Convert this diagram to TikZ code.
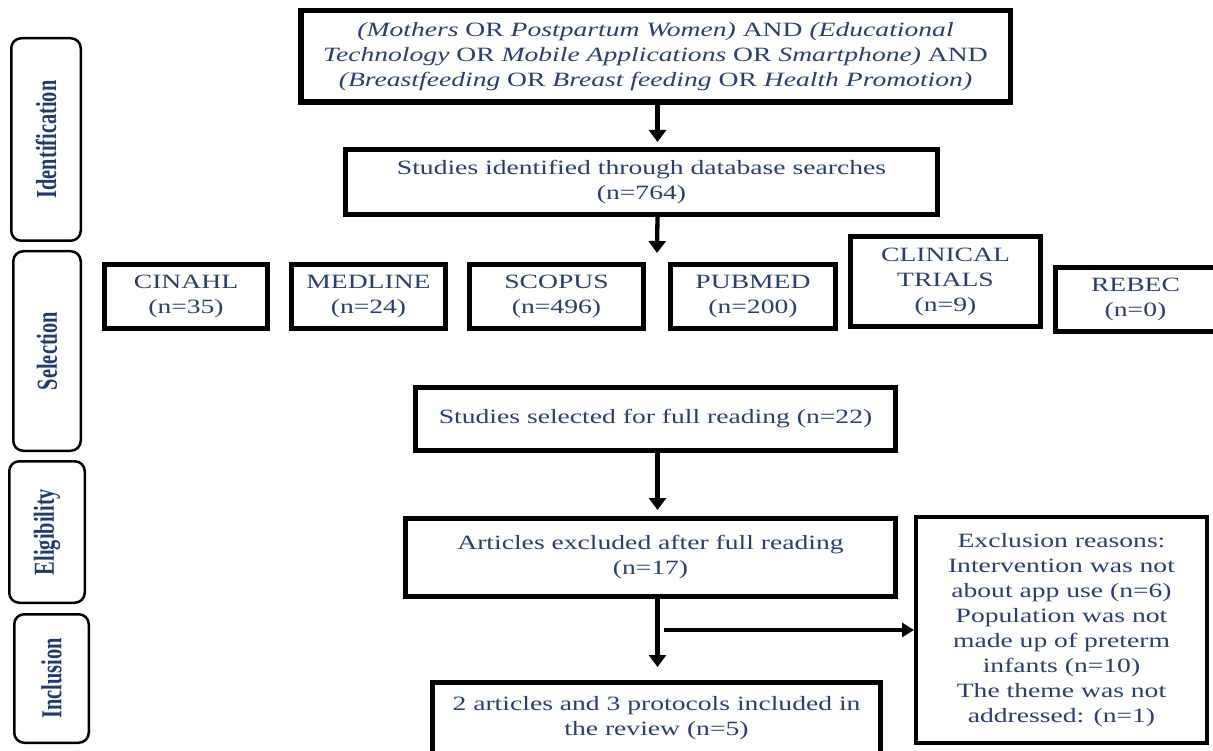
\documentclass[tikz,border=0pt]{standalone}
\usepackage{fontspec}
\setmainfont{Liberation Serif}
\newfontfamily\widefont{Liberation Serif}[FakeStretch=1.36]
\usetikzlibrary{arrows.meta}
\definecolor{txtblue}{HTML}{2B3F6C}
\definecolor{labblue}{HTML}{203A6D}
\begin{document}
\begin{tikzpicture}[x=1pt,y=-1pt,
  box/.style={draw=black, line width=4.7pt, text=txtblue, align=center, inner sep=0pt,
    font=\widefont\fontsize{20.3}{25}\selectfont},
  lab/.style={draw=black, line width=2.5pt, rounded corners=10pt, inner sep=0pt,
    text=labblue, rotate=90, font=\bfseries\fontsize{20.4}{24}\selectfont},
  arr/.style={line width=4.3pt, -{Triangle[width=17pt,length=12pt]}},
  arrside/.style={line width=3.5pt, -{Triangle[width=14pt,length=12pt]}}]
\useasboundingbox (0,0) rectangle (1213,751);
\clip (0,0) rectangle (1213,751);
\fill[white] (0,0) rectangle (1213,751);

% stage labels (rotate=90: minimum width is the vertical extent)
\node[lab, minimum width=202.5pt, minimum height=69.5pt] (ident) at (46,139.5)
  {\scalebox{1}[1.42]{Identification}};
\node[lab, minimum width=199.5pt, minimum height=67.5pt] (select) at (47,351)
  {\scalebox{1}[1.42]{Selection}};
\node[lab, minimum width=141.5pt, minimum height=75.5pt] (elig) at (47,532)
  {\scalebox{1}[1.42]{Eligibility}};
\node[lab, minimum width=128.5pt, minimum height=74.5pt] (incl) at (51.5,678.5)
  {\scalebox{1}[1.42]{Inclusion}};

% flow boxes
\node[box, line width=5.5pt, minimum width=709.5pt, minimum height=91.5pt] (query) at (655.5,56.5)
  {\textit{(Mothers} OR \textit{Postpartum Women)} AND \textit{(Educational}\\
   \textit{Technology} OR \textit{Mobile Applications} OR \textit{Smartphone)} AND\\
   \textit{(Breastfeeding} OR \textit{Breast feeding} OR \textit{Health Promotion)}};
\node[box, minimum width=592.3pt, minimum height=65.3pt] (ids) at (641.5,182)
  {Studies identified through database searches\\(n=764)};

\node[box, minimum width=163.3pt, minimum height=64.3pt] (cinahl) at (186,296.5) {CINAHL\\(n=35)};
\node[box, minimum width=154.3pt, minimum height=64.3pt] (medline) at (368.5,296.5) {MEDLINE\\(n=24)};
\node[box, minimum width=174.3pt, minimum height=64.3pt] (scopus) at (556.5,296.5) {SCOPUS\\(n=496)};
\node[box, minimum width=165.3pt, minimum height=64.3pt] (pubmed) at (753,296.5) {PUBMED\\(n=200)};
\node[box, minimum width=190.3pt, minimum height=90.3pt] (clinical) at (945.5,281.5) {CLINICAL\\TRIALS\\(n=9)};
\node[box, minimum width=160.3pt, minimum height=64.3pt] (rebec) at (1135.5,299.5) {REBEC\\(n=0)};

\node[box, minimum width=480.3pt, minimum height=63.3pt] (selected) at (655.5,419)
  {Studies selected for full reading (n=22)};
\node[box, minimum width=490.3pt, minimum height=78.3pt] (excluded) at (650.5,557.5)
  {Articles excluded after full reading\\(n=17)};
\node[box, minimum width=448.3pt, minimum height=72.3pt] (included) at (656.5,718.5)
  {2 articles and 3 protocols included in\\the review (n=5)};
\node[box, line width=4pt, minimum width=291pt, minimum height=226pt] (reasons) at (1061.5,630)
  {Exclusion reasons:\\Intervention was not\\about app use (n=6)\\Population was not\\made up of preterm\\infants (n=10)\\The theme was not\\addressed: (n=1)};

% connectors
\coordinate (ax) at (657.5,0);
\coordinate (dbtip) at (657,253);
\coordinate (split) at (664,630);
\draw[arr, shorten >=5pt] (query.south -| ax) -- (ids.north -| ax);
\draw[arr] (ids.south -| ax) -- (dbtip);
\draw[arr, shorten >=6pt] (selected.south -| ax) -- (excluded.north -| ax);
\draw[arr, shorten >=13pt] (excluded.south -| ax) -- (included.north -| ax);
\draw[arrside] (split) -- (reasons.west);
\end{tikzpicture}
\end{document}
